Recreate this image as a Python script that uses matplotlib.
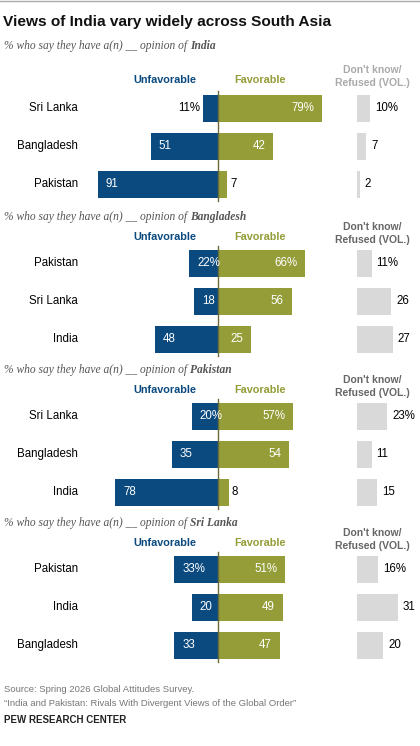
import matplotlib.pyplot as plt

countries = [
    ["Sri Lanka", "Bangladesh", "Pakistan"],
    ["Pakistan", "Sri Lanka", "India"],
    ["Sri Lanka", "Bangladesh", "India"],
    ["Pakistan", "India", "Bangladesh"],
]
targets = ["India", "Bangladesh", "Pakistan", "Sri Lanka"]
unfav = [[11, 51, 91], [22, 18, 48], [20, 35, 78], [33, 20, 33]]
fav = [[79, 42, 7], [66, 56, 25], [57, 54, 8], [51, 49, 47]]
dk = [[10, 7, 2], [11, 26, 27], [23, 11, 15], [16, 31, 20]]

BLUE = "#0b4a7f"
GREEN = "#949d38"
GRAY = "#d9d9d9"
CX = 218      # zero line x
SC = 1.32     # px per percent
DKX = 357
BH = 27

plt.rcParams["font.family"] = ["Liberation Sans", "DejaVu Sans"]
fig = plt.figure(figsize=(4.2, 7.46), dpi=100)
ax = fig.add_axes([0, 0, 1, 1])
ax.set_xlim(0, 420)
ax.set_ylim(746, 0)
ax.axis("off")

ax.plot([0, 420], [1, 1], color="#aaaaaa", lw=1)
ax.text(3, 22, "Views of India vary widely across South Asia", fontsize=11.1,
        fontweight="bold", va="center", color="#111111")

subs_y = [46, 217, 370, 523]
prefix = "% who say they have a(n) __ opinion of "
for p in range(4):
    sy = subs_y[p]
    t = ax.text(4, sy, prefix, fontsize=8.3, style="italic",
                family="Liberation Serif", color="#555555", va="center")
    fig.canvas.draw()
    bb = t.get_window_extent()
    x_end = ax.transData.inverted().transform((bb.x1, bb.y0))[0]
    ax.text(x_end, sy, targets[p], fontsize=8.3, style="italic", fontweight="bold",
            family="Liberation Serif", color="#555555", va="center")

    hy = sy + (34 if p == 0 else 20)
    ax.text(165, hy, "Unfavorable", color=BLUE, fontsize=7.8, fontweight="bold",
            ha="center", va="center")
    ax.text(260, hy, "Favorable", color=GREEN, fontsize=7.8, fontweight="bold",
            ha="center", va="center")
    dkc = "#aaaaaa" if p == 0 else "#666666"
    ax.text(372, hy - 10, "Don't know/", color=dkc, fontsize=7.5, fontweight="bold",
            ha="center", va="center")
    ax.text(372, hy + 3, "Refused (VOL.)", color=dkc, fontsize=7.5, fontweight="bold",
            ha="center", va="center")

    row0 = sy + (62 if p == 0 else 46)
    ys = [row0 + 38 * i for i in range(3)]
    ax.plot([CX, CX], [ys[0] - 17, ys[-1] + 17], color="#6b6b3a", lw=1, zorder=3)
    for i in range(3):
        y = ys[i]
        u, f, d = unfav[p][i], fav[p][i], dk[p][i]
        suf = "%" if i == 0 else ""
        ax.text(78, y, countries[p][i], ha="right", va="center", fontsize=8.3)
        ax.barh(y, -u * SC, left=CX, height=BH, color=BLUE)
        ax.barh(y, f * SC, left=CX, height=BH, color=GREEN)
        ax.barh(y, d * SC, left=DKX, height=BH, color=GRAY)
        if u >= 15:
            ax.text(CX - u * SC + 8, y, f"{u}{suf}", color="white", ha="left", va="center", fontsize=8.3)
        else:
            ax.text(CX - u * SC - 3, y, f"{u}{suf}", color="black", ha="right", va="center", fontsize=8.3)
        if f >= 15:
            ax.text(CX + f * SC - 8, y, f"{f}{suf}", color="white", ha="right", va="center", fontsize=8.3)
        else:
            ax.text(CX + f * SC + 3, y, f"{f}{suf}", color="black", ha="left", va="center", fontsize=8.3)
        ax.text(DKX + d * SC + 5, y, f"{d}{suf}", color="black", ha="left", va="center", fontsize=8.3)

ax.text(4, 690, "Source: Spring 2026 Global Attitudes Survey.", fontsize=6.8, color="#777777", va="center")
ax.text(4, 703, "\u201cIndia and Pakistan: Rivals With Divergent Views of the Global Order\u201d",
        fontsize=6.8, color="#777777", va="center")
ax.text(4, 720, "PEW RESEARCH CENTER", fontsize=7, fontweight="bold", color="#222222", va="center")

fig.savefig("out.png", dpi=100)
